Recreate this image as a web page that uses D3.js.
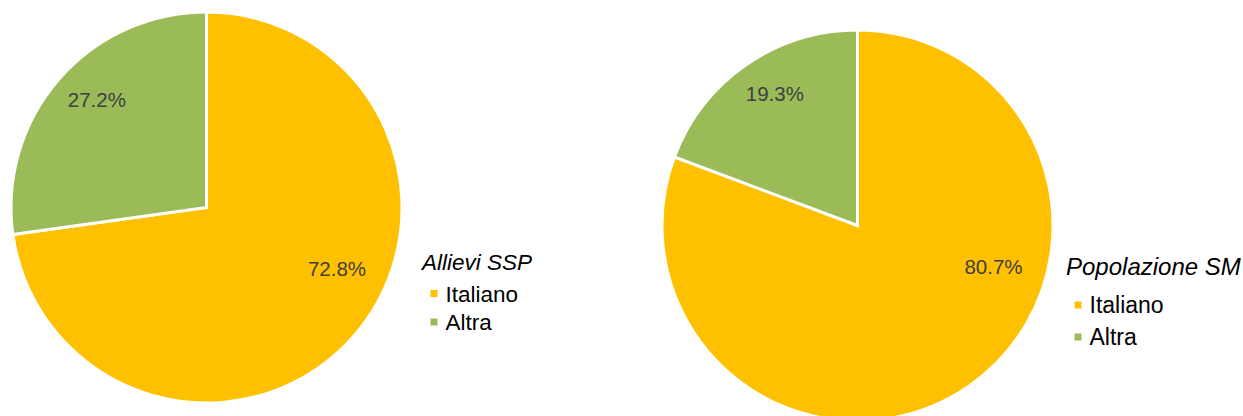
<!DOCTYPE html>
<html>
<head>
<meta charset="utf-8">
<script src="https://cdn.jsdelivr.net/npm/d3@7"></script>
<style>
  html, body { margin: 0; padding: 0; background: #fff; }
  svg { display: block; font-family: "Liberation Sans", Arial, sans-serif; }
</style>
</head>
<body>
<svg id="chart" width="1243" height="416"></svg>
<script>
// ---- data ----
const categories = ["Italiano", "Altra"];
const valuesSSP = [72.8, 27.2];
const valuesSM = [80.7, 19.3];
const titles = ["Allievi SSP", "Popolazione SM"];
const colors = ["#FFC000", "#9BBB59"];

// ---- layout (style) ----
const pies = [
  { values: valuesSSP, title: titles[0], cx: 206.5, cy: 207.5, r: 195.5,
    labelPos: [{a: 115, d: 144}, {a: 314.6, d: 154}],
    legend: { x: 422, y: 270, gap1: 31.5, gap2: 28.5, size: 22.5, tsize: 22.5 } },
  { values: valuesSM, title: titles[1], cx: 857.5, cy: 225.5, r: 195.5,
    labelPos: [{a: 106.7, d: 142}, {a: 328, d: 156}],
    legend: { x: 1066, y: 275, gap1: 38, gap2: 32, size: 23, tsize: 24 } }
];

const svg = d3.select("#chart");
const color = d3.scaleOrdinal().domain(categories).range(colors);

pies.forEach(p => {
  const data = categories.map((c, i) => ({ cat: c, value: p.values[i] }));
  const pie = d3.pie().value(d => d.value).sort(null);
  const arc = d3.arc().innerRadius(0).outerRadius(p.r);
  const arcs = pie(data);
  const g = svg.append("g").attr("transform", `translate(${p.cx},${p.cy})`);

  g.selectAll("path").data(arcs).join("path")
    .attr("d", arc)
    .attr("fill", d => color(d.data.cat))
    .attr("stroke", "#fff")
    .attr("stroke-width", 3)
    .attr("stroke-linejoin", "miter");

  g.selectAll("text.lbl").data(arcs).join("text")
    .attr("class", "lbl")
    .attr("x", (d, i) => Math.sin(p.labelPos[i].a * Math.PI / 180) * p.labelPos[i].d)
    .attr("y", (d, i) => -Math.cos(p.labelPos[i].a * Math.PI / 180) * p.labelPos[i].d)
    .attr("text-anchor", "middle")
    .attr("dominant-baseline", "central")
    .attr("font-size", 20.5)
    .attr("fill", "#404040")
    .text(d => d.data.value.toFixed(1) + "%");

  // legend
  const L = p.legend;
  const lg = svg.append("g").attr("transform", `translate(${L.x},${L.y})`);
  lg.append("text")
    .attr("x", 0).attr("y", 0)
    .attr("font-size", L.tsize)
    .attr("font-style", "italic")
    .attr("fill", "#000")
    .text(p.title);
  categories.forEach((c, i) => {
    const y = L.gap1 + i * L.gap2;
    lg.append("rect")
      .attr("x", 8.5).attr("y", y - 11.5)
      .attr("width", 7).attr("height", 7)
      .attr("fill", color(c));
    lg.append("text")
      .attr("x", 23.5).attr("y", y)
      .attr("font-size", L.size)
      .attr("fill", "#000")
      .text(c);
  });
});
</script>
</body>
</html>
